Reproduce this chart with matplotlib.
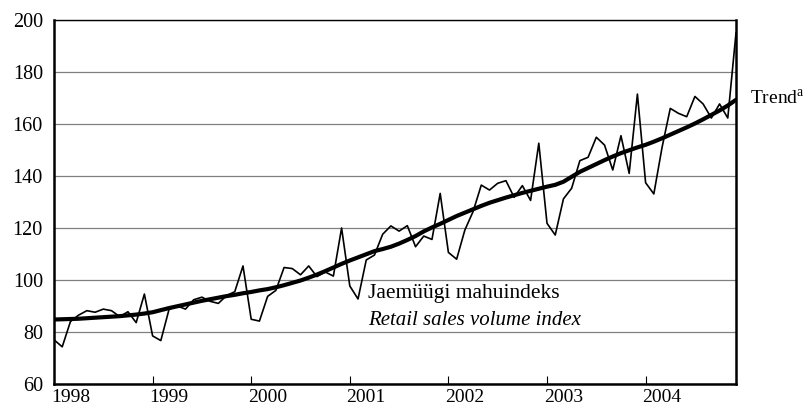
# %% Library
import matplotlib
matplotlib.use("Agg")
import matplotlib.pyplot as plt
import numpy as np

# %% Data (monthly, Jan 1998 - Dec 2004)
years = ["1998", "1999", "2000", "2001", "2002", "2003", "2004"]

volume_index = [
    77.0, 74.3, 84.0, 86.5, 88.2, 87.6, 88.8, 88.2, 85.9, 87.8, 83.6, 94.6,
    78.5, 76.7, 88.7, 90.0, 88.8, 92.4, 93.4, 91.8, 91.0, 94.0, 95.5, 105.4,
    84.9, 84.2, 93.7, 96.0, 104.8, 104.4, 102.0, 105.4, 101.3, 103.1, 101.5, 120.0,
    97.7, 92.7, 107.7, 109.6, 117.6, 120.8, 118.8, 120.9, 112.8, 116.9, 115.6, 133.3,
    110.6, 108.0, 119.2, 126.3, 136.5, 134.6, 137.2, 138.2, 131.8, 136.3, 130.6, 152.6,
    121.8, 117.3, 131.2, 135.3, 145.9, 147.2, 154.9, 151.9, 142.3, 155.5, 141.0, 171.5,
    137.4, 133.1, 151.0, 166.0, 164.1, 162.8, 170.6, 167.7, 162.3, 167.7, 162.3, 195.0,
]

trend = [
    84.8, 84.9, 85.0, 85.1, 85.3, 85.5, 85.7, 85.9, 86.1, 86.4, 86.7, 87.1,
    87.6, 88.4, 89.2, 89.9, 90.6, 91.3, 92.0, 92.6, 93.2, 93.8, 94.3, 94.9,
    95.4, 96.0, 96.5, 97.2, 98.0, 98.9, 99.8, 100.9, 102.1, 103.4, 104.8, 106.2,
    107.5, 108.7, 109.9, 111.1, 111.9, 112.8, 114.0, 115.4, 116.9, 118.7, 120.2, 121.6,
    123.1, 124.6, 125.9, 127.2, 128.5, 129.7, 130.7, 131.7, 132.6, 133.5, 134.3, 135.1,
    135.9, 136.6, 137.8, 139.7, 141.6, 143.1, 144.6, 146.1, 147.5, 148.8, 149.9, 151.0,
    152.0, 153.2, 154.5, 155.9, 157.3, 158.7, 160.2, 161.8, 163.5, 165.2, 167.1, 169.3,
]

# %% Style
plt.rcParams["font.family"] = ["Liberation Serif", "DejaVu Serif"]
plt.rcParams["mathtext.fontset"] = "custom"
plt.rcParams["mathtext.rm"] = "Liberation Serif"

# %% Plot
fig = plt.figure(figsize=(8.09, 4.12), dpi=100)
ax = fig.add_axes([54 / 809, 28 / 412, (736 - 54) / 809, (384 - 20) / 412])

months = np.arange(len(volume_index))

ax.plot(months, volume_index, color="black", linewidth=1.2, zorder=3)
ax.plot(months, trend, color="black", linewidth=3.0, solid_capstyle="round", zorder=4)

ax.set_xlim(0, len(volume_index) - 1)
ax.set_ylim(60, 200)

# gridlines
ax.set_yticks(np.arange(60, 201, 20))
ax.yaxis.grid(True, color="#808080", linewidth=0.9)
ax.set_axisbelow(True)
ax.tick_params(axis="y", length=0, pad=8, labelsize=14.5)

# year ticks at January, labels a bit to the right
ax.set_xticks(np.arange(12, len(volume_index), 12))
ax.set_xticklabels([])
ax.tick_params(axis="x", which="major", direction="in", length=6, width=0.8)
ax.set_xticks(np.arange(2, len(volume_index), 12), minor=True)
ax.set_xticklabels(years, minor=True)
ax.tick_params(axis="x", which="minor", length=0, pad=3.5, labelsize=14)

# spines
for side in ["left", "bottom", "right"]:
    ax.spines[side].set_linewidth(1.8)
ax.spines["top"].set_linewidth(1.0)

# labels
ax.text(38.2, 93.1, "Jaemüügi mahuindeks", fontsize=15.5)
ax.text(38.2, 82.7, "Retail sales volume index", fontsize=15, style="italic")
ax.text(84.7, 167.7, r"Trend$^{\mathrm{a}}$", fontsize=14, clip_on=False)

fig.savefig("out.png", dpi=100)
